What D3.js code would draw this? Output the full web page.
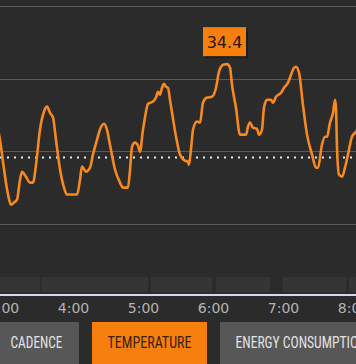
<!DOCTYPE html>
<html><head><meta charset="utf-8">
<script src="https://cdn.jsdelivr.net/npm/d3@7"></script>
<style>
html,body{margin:0;padding:0;background:#2b2b2b;overflow:hidden}
svg{display:block}
</style></head>
<body>
<svg id="c" width="356" height="364"></svg>
<script>
// time in minutes since midnight
const minutes = [175,177.4,180.9,184.3,186.9,189.4,192.0,194.6,196.3,199.7,203.1,205.7,208.3,211.7,215.1,217.7,220.3,222.9,225.4,228.9,232.3,234.9,239.1,243.4,246.0,247.7,251.1,254.6,257.1,260.6,263.1,266.6,269.1,271.7,276.0,280.3,282.9,287.1,288.9,290.6,293.1,295.7,297.4,300.0,301.7,304.3,308.6,311.1,312.9,314.6,316.3,318.0,319.7,321.4,323.1,324.9,329.1,331.7,336.0,338.6,339.4,341.1,342.9,346.3,348.9,351.4,354.9,359.1,362.6,365.1,367.7,369.4,372.0,374.6,376.3,379.7,383.1,388.3,390.0,391.7,394.3,397.7,399.4,402.0,403.7,406.3,409.7,411.4,414.0,418.3,420.9,424.3,426.9,429.4,431.1,433.7,437.1,440.6,444.9,448.3,450.0,453.4,456.0,457.7,460.3,462.9,464.6,465.4,466.3,468.0,470.6,473.1,475.7,479.1,482.6,486.0];
// temperature (°C)
const temps = [32.73,32.32,31.50,30.81,30.53,30.59,30.67,31.22,31.44,31.30,31.14,31.14,31.63,32.60,33.09,33.23,33.06,32.93,32.32,31.50,31.00,30.81,30.81,30.81,31.22,31.58,31.44,31.55,31.91,32.32,32.60,32.76,32.60,32.18,31.50,31.14,31.00,31.00,31.50,32.13,32.24,32.16,31.99,32.60,32.93,33.31,33.37,33.48,33.64,33.56,33.75,33.86,33.78,33.75,33.42,33.06,32.27,31.91,31.74,31.72,31.63,32.05,32.60,32.82,32.79,33.34,33.48,33.50,33.75,34.19,34.36,34.39,34.4,34.30,33.83,33.20,32.46,32.46,32.68,32.79,32.65,32.62,32.46,32.60,33.20,33.42,33.42,33.34,33.50,33.61,33.75,33.89,34.11,34.30,34.33,34.17,33.28,32.46,31.91,31.55,31.55,32.18,32.40,32.40,32.79,33.06,33.42,33.20,32.10,31.36,31.30,31.55,31.91,32.40,32.54,32.73];
const hourTicks = [180,240,300,360,420,480];
const tickLabels = ["3:00","4:00","5:00","6:00","7:00","8:00"];
const gridTemps = [30,32,34,36];
const avgTemp = 31.83;
const segmentStarts = [172,213,306.9,362.6,420,476.6];
const segmentEnds = [211.7,304.3,359.1,408.9,474,490];
const buttonLabels = ["CADENCE","TEMPERATURE","ENERGY CONSUMPTION"];
const activeButton = "TEMPERATURE";

const svg = d3.select("#c");
const x = d3.scaleLinear().domain([180,480]).range([3,353]);
const y = d3.scaleLinear().domain([30,36]).range([224,6]);

// gridlines
svg.append("g").selectAll("line").data(gridTemps).join("line")
  .attr("x1",0).attr("x2",356)
  .attr("y1",d=>Math.round(y(d))+0.5).attr("y2",d=>Math.round(y(d))+0.5)
  .attr("stroke","#5a5a5a").attr("stroke-width",1.2);

// average dotted line
svg.append("line").attr("x1",0).attr("x2",356)
  .attr("y1",y(avgTemp)).attr("y2",y(avgTemp))
  .attr("stroke","#e8e8e8").attr("stroke-width",2)
  .attr("stroke-dasharray","2,5");

// temperature line
const data = minutes.map((m,i)=>({m, t:temps[i]}));
svg.append("path").datum(data)
  .attr("fill","none").attr("stroke","#f7891f").attr("stroke-width",2.6)
  .attr("stroke-linejoin","round")
  .attr("d", d3.line().x(d=>x(d.m)).y(d=>y(d.t)).curve(d3.curveMonotoneX));

// peak tooltip
const peakIdx = d3.maxIndex(temps);
const px = x(minutes[peakIdx]) - 2.5, py = y(temps[peakIdx]);
const tw = 43, th = 29;
const tip = svg.append("g").attr("transform",`translate(${px - tw/2},${py - 8 - th})`);
tip.append("rect").attr("x",2).attr("y",2).attr("width",tw).attr("height",th).attr("fill","#1a1a1a").attr("opacity",0.7);
tip.append("rect").attr("width",tw).attr("height",th).attr("fill","#f77f0d");
tip.append("text").attr("x",tw/2).attr("y",th/2+6).attr("text-anchor","middle")
  .attr("font-family","DejaVu Sans, sans-serif").attr("font-size",16).attr("fill","#2a1708")
  .text(temps[peakIdx].toFixed(1));

// bottom activity strip
svg.append("g").selectAll("rect").data(segmentStarts).join("rect")
  .attr("x",(d)=>x(d)).attr("width",(d,i)=>x(segmentEnds[i])-x(d))
  .attr("y",277).attr("height",15).attr("fill","#353535");

// axis
const axis = svg.append("g").attr("transform","translate(0,295)")
  .call(d3.axisBottom(x).tickValues(hourTicks).tickFormat((d,i)=>tickLabels[i]).tickSize(0).tickPadding(8));
axis.select(".domain").attr("stroke","#d8d8e8").attr("stroke-width",2).attr("d","M-10,0H370");
axis.selectAll("text").attr("font-family","DejaVu Sans, sans-serif").attr("font-size",14).attr("fill","#b4b4b4");

// buttons
const bx = d3.scaleOrdinal().domain(buttonLabels).range([[-6,79],[92,207],[220,382]]);
const btn = svg.append("g").selectAll("g").data(buttonLabels).join("g");
btn.append("rect").attr("x",d=>bx(d)[0]).attr("width",d=>bx(d)[1]-bx(d)[0])
  .attr("y",322).attr("height",50)
  .attr("fill",d=>d===activeButton?"#f77f0d":"#575757");
const widths = {"CADENCE":52,"TEMPERATURE":84,"ENERGY CONSUMPTION":131};
btn.append("text").attr("x",d=>(bx(d)[0]+bx(d)[1])/2).attr("y",347.5)
  .attr("text-anchor","middle")
  .attr("font-family","'Liberation Sans Narrow','Roboto Condensed','Liberation Sans',sans-serif")
  .attr("font-size",17)
  .attr("textLength",d=>widths[d]).attr("lengthAdjust","spacingAndGlyphs")
  .attr("fill",d=>d===activeButton?"#3a1e05":"#e2e2e2")
  .text(d=>d);
</script>
</body></html>
